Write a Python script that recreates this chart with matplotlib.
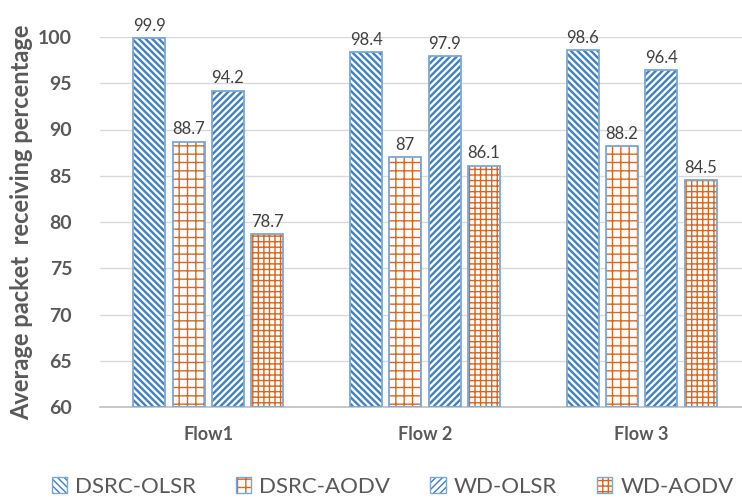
import numpy as np
import matplotlib.pyplot as plt

plt.rcParams['font.family'] = ['Lato', 'DejaVu Sans']

flows = ["Flow1", "Flow 2", "Flow 3"]
series = ["DSRC-OLSR", "DSRC-AODV", "WD-OLSR", "WD-AODV"]
dsrc_olsr = [99.9, 98.4, 98.6]
dsrc_aodv = [88.7, 87, 88.2]
wd_olsr = [94.2, 97.9, 96.4]
wd_aodv = [78.7, 86.1, 84.5]
values = [dsrc_olsr, dsrc_aodv, wd_olsr, wd_aodv]

blue = '#3f7fc4'
orange = '#d9661e'
edge = '#7ba7d6'
hatches = ['\\' * 5, '++', '/' * 5, '+++']
hatch_colors = [blue, orange, blue, orange]
hatch_lw = [1.7, 1.0, 1.7, 1.0]
grey = '#595959'

fig = plt.figure(figsize=(7.42, 5.03), dpi=100)
ax = fig.add_axes([100 / 742, 1 - 407 / 503, 650 / 742, 370 / 503])

x = np.arange(len(flows))
width = 0.148
step = 0.1815

handles = []
for i, vals in enumerate(values):
    pos = x + (i - 1.5) * step
    with plt.rc_context({'hatch.linewidth': hatch_lw[i]}):
        ax.bar(pos, np.array(vals) - 60, width, bottom=60, color='white',
               edgecolor=hatch_colors[i], hatch=hatches[i], linewidth=0, zorder=2)
        h1 = plt.Rectangle((0, 0), 1, 1, facecolor='white', edgecolor=hatch_colors[i],
                           hatch=hatches[i], linewidth=0)
    ax.bar(pos, np.array(vals) - 60, width, bottom=60, fill=False,
           edgecolor=edge, linewidth=1.3, zorder=3)
    h2 = plt.Rectangle((0, 0), 1, 1, fill=False, edgecolor=edge, linewidth=1.0)
    handles.append((h1, h2))
    for xi, v in zip(pos, vals):
        ax.text(xi, v + 0.45, f"{v:g}", ha='center', va='bottom',
                fontsize=12, color='#404040')

ax.set_ylim(60, 100)
ax.set_xlim(-0.5, 2.5)
ax.set_yticks(np.arange(60, 101, 5))
ax.set_xticks(x)
ax.set_xticklabels(flows, fontsize=13, fontweight='bold', color=grey)
ax.tick_params(axis='y', labelsize=14, labelcolor=grey, length=0, pad=20)
ax.tick_params(axis='x', length=0, pad=14)
for lab in ax.get_yticklabels():
    lab.set_fontweight('bold')

ax.grid(axis='y', color='#d9d9d9', linewidth=1.0)
ax.set_axisbelow(True)
for s in ['top', 'right', 'left']:
    ax.spines[s].set_visible(False)
ax.spines['bottom'].set_color('#bfbfbf')
ax.spines['bottom'].set_linewidth(1.2)

ax.set_ylabel("Average packet  receiving percentage", fontsize=17,
              fontweight='bold', color=grey, labelpad=4)

leg = fig.legend(handles, series, loc='center', ncol=4,
                 bbox_to_anchor=(0.529, 1 - 487 / 503), frameon=False,
                 fontsize=16, handlelength=0.7, handleheight=0.7,
                 handletextpad=0.35, columnspacing=1.8)
for t in leg.get_texts():
    t.set_color(grey)

fig.savefig("out.png", dpi=100)
